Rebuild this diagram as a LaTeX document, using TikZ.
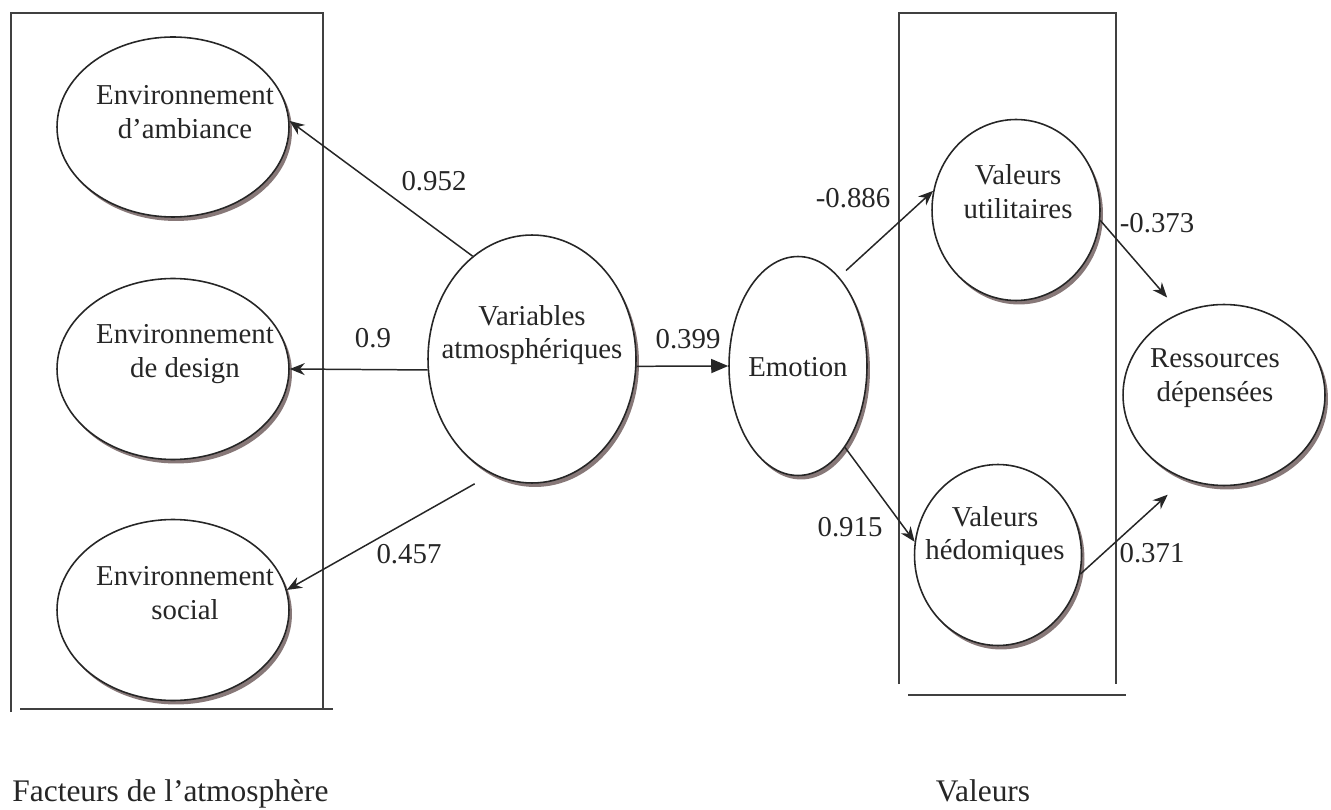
\documentclass[tikz,border=0pt]{standalone}
\usepackage{fontspec}
\setmainfont{Liberation Serif}
\usetikzlibrary{arrows.meta, shapes.geometric, shadows, calc}
\definecolor{shadowbrown}{RGB}{135,120,120}

\begin{document}
\begin{tikzpicture}[
    x=0.02cm, y=-0.02cm,
    font=\fontsize{16.4}{19.2}\selectfont,
    latent/.style={
        ellipse, draw=black!85, line width=0.9pt,
        fill=white, inner sep=0pt,
        drop shadow={shadow xshift=0.06cm, shadow yshift=-0.08cm, fill=shadowbrown, opacity=1}
    },
    caption/.style={align=center, text=black!85, inner sep=0pt},
    groupcap/.style={caption, font=\fontsize{17.9}{21}\selectfont},
    weight/.style={text=black!85, inner sep=0pt},
    frame/.style={draw=black!75, line width=0.85pt},
    effect/.style={-{Stealth[length=0.3cm, width=0.24cm]}, line width=0.85pt, draw=black!85},
    mainflow/.style={-{Triangle[length=0.34cm, width=0.28cm]}, line width=0.85pt, draw=black!85}
]
\useasboundingbox (0,0) rectangle (1331,810);

% ============ Frames ============
\draw[frame] (11,712) -- (11,13) -- (323,13) -- (323,709);
\draw[frame] (20,709) -- (333,709);
\draw[frame] (899,684) -- (899,13) -- (1116,13) -- (1116,684);
\draw[frame] (908,695) -- (1126,695);

% ============ Latent variables ============
\node[latent, minimum width=4.64cm, minimum height=3.6cm] (ambiance) at (173,127) {};
\node[latent, minimum width=4.64cm, minimum height=3.62cm] (design) at (173,369) {};
\node[latent, minimum width=4.64cm, minimum height=3.62cm] (social) at (173,610) {};
\node[latent, minimum width=4.16cm, minimum height=4.96cm] (variables) at (532,359) {};
\node[latent, minimum width=2.76cm, minimum height=4.38cm] (emotion) at (798,366) {};
\node[latent, minimum width=3.36cm, minimum height=3.62cm] (util) at (1016,210) {};
\node[latent, minimum width=3.34cm, minimum height=3.62cm] (hedo) at (998,555) {};
\node[latent, minimum width=4.04cm, minimum height=3.62cm] (ressources) at (1224,395) {};

\node[caption] (ambiance-txt) at (185,112) {Environnement\\d’ambiance};
\node[caption] (design-txt) at (185,354) {Environnement\\de design};
\node[caption] (social-txt) at (185,593) {Environnement\\social};
\node[caption] (variables-txt) at (532,335) {Variables\\atmosphériques};
\node[caption] (emotion-txt) at (798,367) {Emotion};
\node[caption] (util-txt) at (1018,192) {Valeurs\\utilitaires};
\node[caption] (hedo-txt) at (995,536) {Valeurs\\hédomiques};
\node[caption] (ressources-txt) at (1215,378) {Ressources\\dépensées};

% ============ Paths ============
\draw[effect] (variables.120) -- (ambiance.3);
\draw[effect] (variables.186) -- (design.east);
\draw[effect] ($(variables.240)+(2,22)$) -- (social.10);
\draw[mainflow] (variables.-4) -- (emotion.west);
\draw[effect] ($(emotion.60)+(1,-14)$) -- (util.167);
\draw[effect] (emotion.300) -- (hedo.171);
\draw[effect, shorten >=0.4cm] (util.353) -- (ressources.118);
\draw[effect, shorten >=0.46cm] (hedo.347) -- (ressources.245);

% ============ Weights ============
\node[weight] (w-ambiance) at (434,181) {0.952};
\node[weight] (w-design) at (373,338) {0.9};
\node[weight] (w-social) at (409,554) {0.457};
\node[weight] (w-emotion) at (688,339) {0.399};
\node[weight] (w-util) at (853,198) {-0.886};
\node[weight] (w-hedo) at (850,527) {0.915};
\node[weight] (w-util-res) at (1157,223) {-0.373};
\node[weight] (w-hedo-res) at (1152,553) {0.371};

% ============ Group captions ============
\node[groupcap, anchor=base west] (atmos-cap) at (12,801) {Facteurs de l’atmosphère};
\node[groupcap, anchor=base] (valeurs-cap) at (983,801) {Valeurs};

\end{tikzpicture}
\end{document}
